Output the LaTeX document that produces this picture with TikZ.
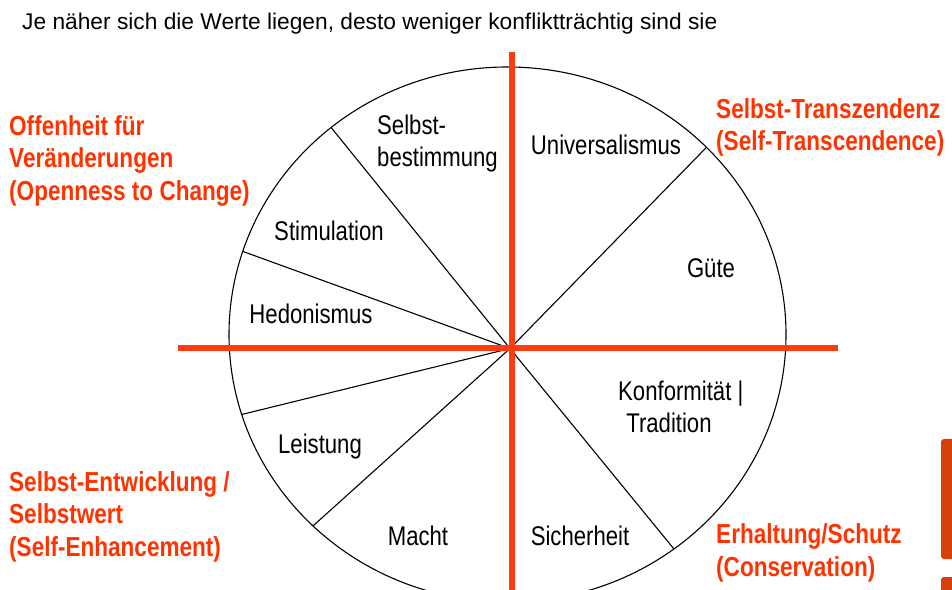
\documentclass[tikz,border=0pt]{standalone}
\usepackage{fontspec}
\setmainfont{Liberation Sans}
\newfontfamily\narrowfont{Liberation Sans}[FakeStretch=0.82]
\usepackage{xcolor}
\usetikzlibrary{calc}

\definecolor{crossred}{RGB}{255,60,15}
\definecolor{labelred}{RGB}{255,51,0}
\definecolor{bardark}{RGB}{214,64,10}

\begin{document}
\begin{tikzpicture}[x=1pt, y=1pt,
  value/.style={font=\narrowfont\fontsize{27}{32}\selectfont, inner sep=0pt, align=left},
  group/.style={font=\narrowfont\bfseries\fontsize{27.5}{32.5}\selectfont, text=labelred, inner sep=0pt, align=left, anchor=west}]
  \useasboundingbox (0,0) rectangle (952,589);
  \clip (0,0) rectangle (952,589);

  % Centre of the circle and meeting point of the spokes
  \coordinate (O) at (507.5, 254.5);
  \coordinate (M) at (510, 240.5);

  % Title line
  \node[anchor=base west, inner sep=0pt, font=\fontsize{22.75}{26}\selectfont] (title) at (22, 559)
    {Je näher sich die Werte liegen, desto weniger konfliktträchtig sind sie};

  % The value circle
  \draw[line width=1.1pt] (O) ellipse [x radius=278.5pt, y radius=267.5pt];

  % Spokes between the values
  \foreach \a in {44.4, 129.3, 161.9, 197.4, 225.7, 306.7}
    \draw[line width=1.1pt] (M) -- ($(O)+(\a:278.5pt and 267.5pt)$);

  % The two axes
  \coordinate (W) at (178, 241);
  \coordinate (E) at (838, 241);
  \coordinate (N) at (511.5, 537);
  \coordinate (S) at (511.5, -5);
  \draw[crossred, line width=6pt] (W) -- (E);
  \draw[crossred, line width=6pt] (N) -- (S);

  % Values
  \node[value, anchor=west] (selbst) at (377, 445) {Selbst-\\bestimmung};
  \node[value] (univ) at (606, 444) {Universalismus};
  \node[value] (stim) at (329, 358) {Stimulation};
  \node[value] (guete) at (711, 321) {Güte};
  \node[value] (hedo) at (311, 275) {Hedonismus};
  \node[value, anchor=west] (konf) at (618, 182) {Konformität |\\\hspace*{0.3em}Tradition};
  \node[value] (leist) at (320, 142) {Leistung};
  \node[value] (macht) at (418, 53) {Macht};
  \node[value] (sicher) at (580, 53) {Sicherheit};

  % Higher order groups
  \node[group] (open) at (9, 428.5) {Offenheit für\\Veränderungen\\(Openness to Change)};
  \node[group] (trans) at (716, 461.5) {Selbst-Transzendenz\\(Self-Transcendence)};
  \node[group] (enh) at (9, 72.5) {Selbst-Entwicklung /\\Selbstwert\\(Self-Enhancement)};
  \node[group] (cons) at (716, 36) {Erhaltung/Schutz\\(Conservation)};

  % Slide decoration at the right edge
  \fill[bardark, rounded corners=3pt] (941, 30) rectangle (962, 150);
  \fill[bardark, rounded corners=3pt] (941, -10) rectangle (962, 12);
\end{tikzpicture}
\end{document}
